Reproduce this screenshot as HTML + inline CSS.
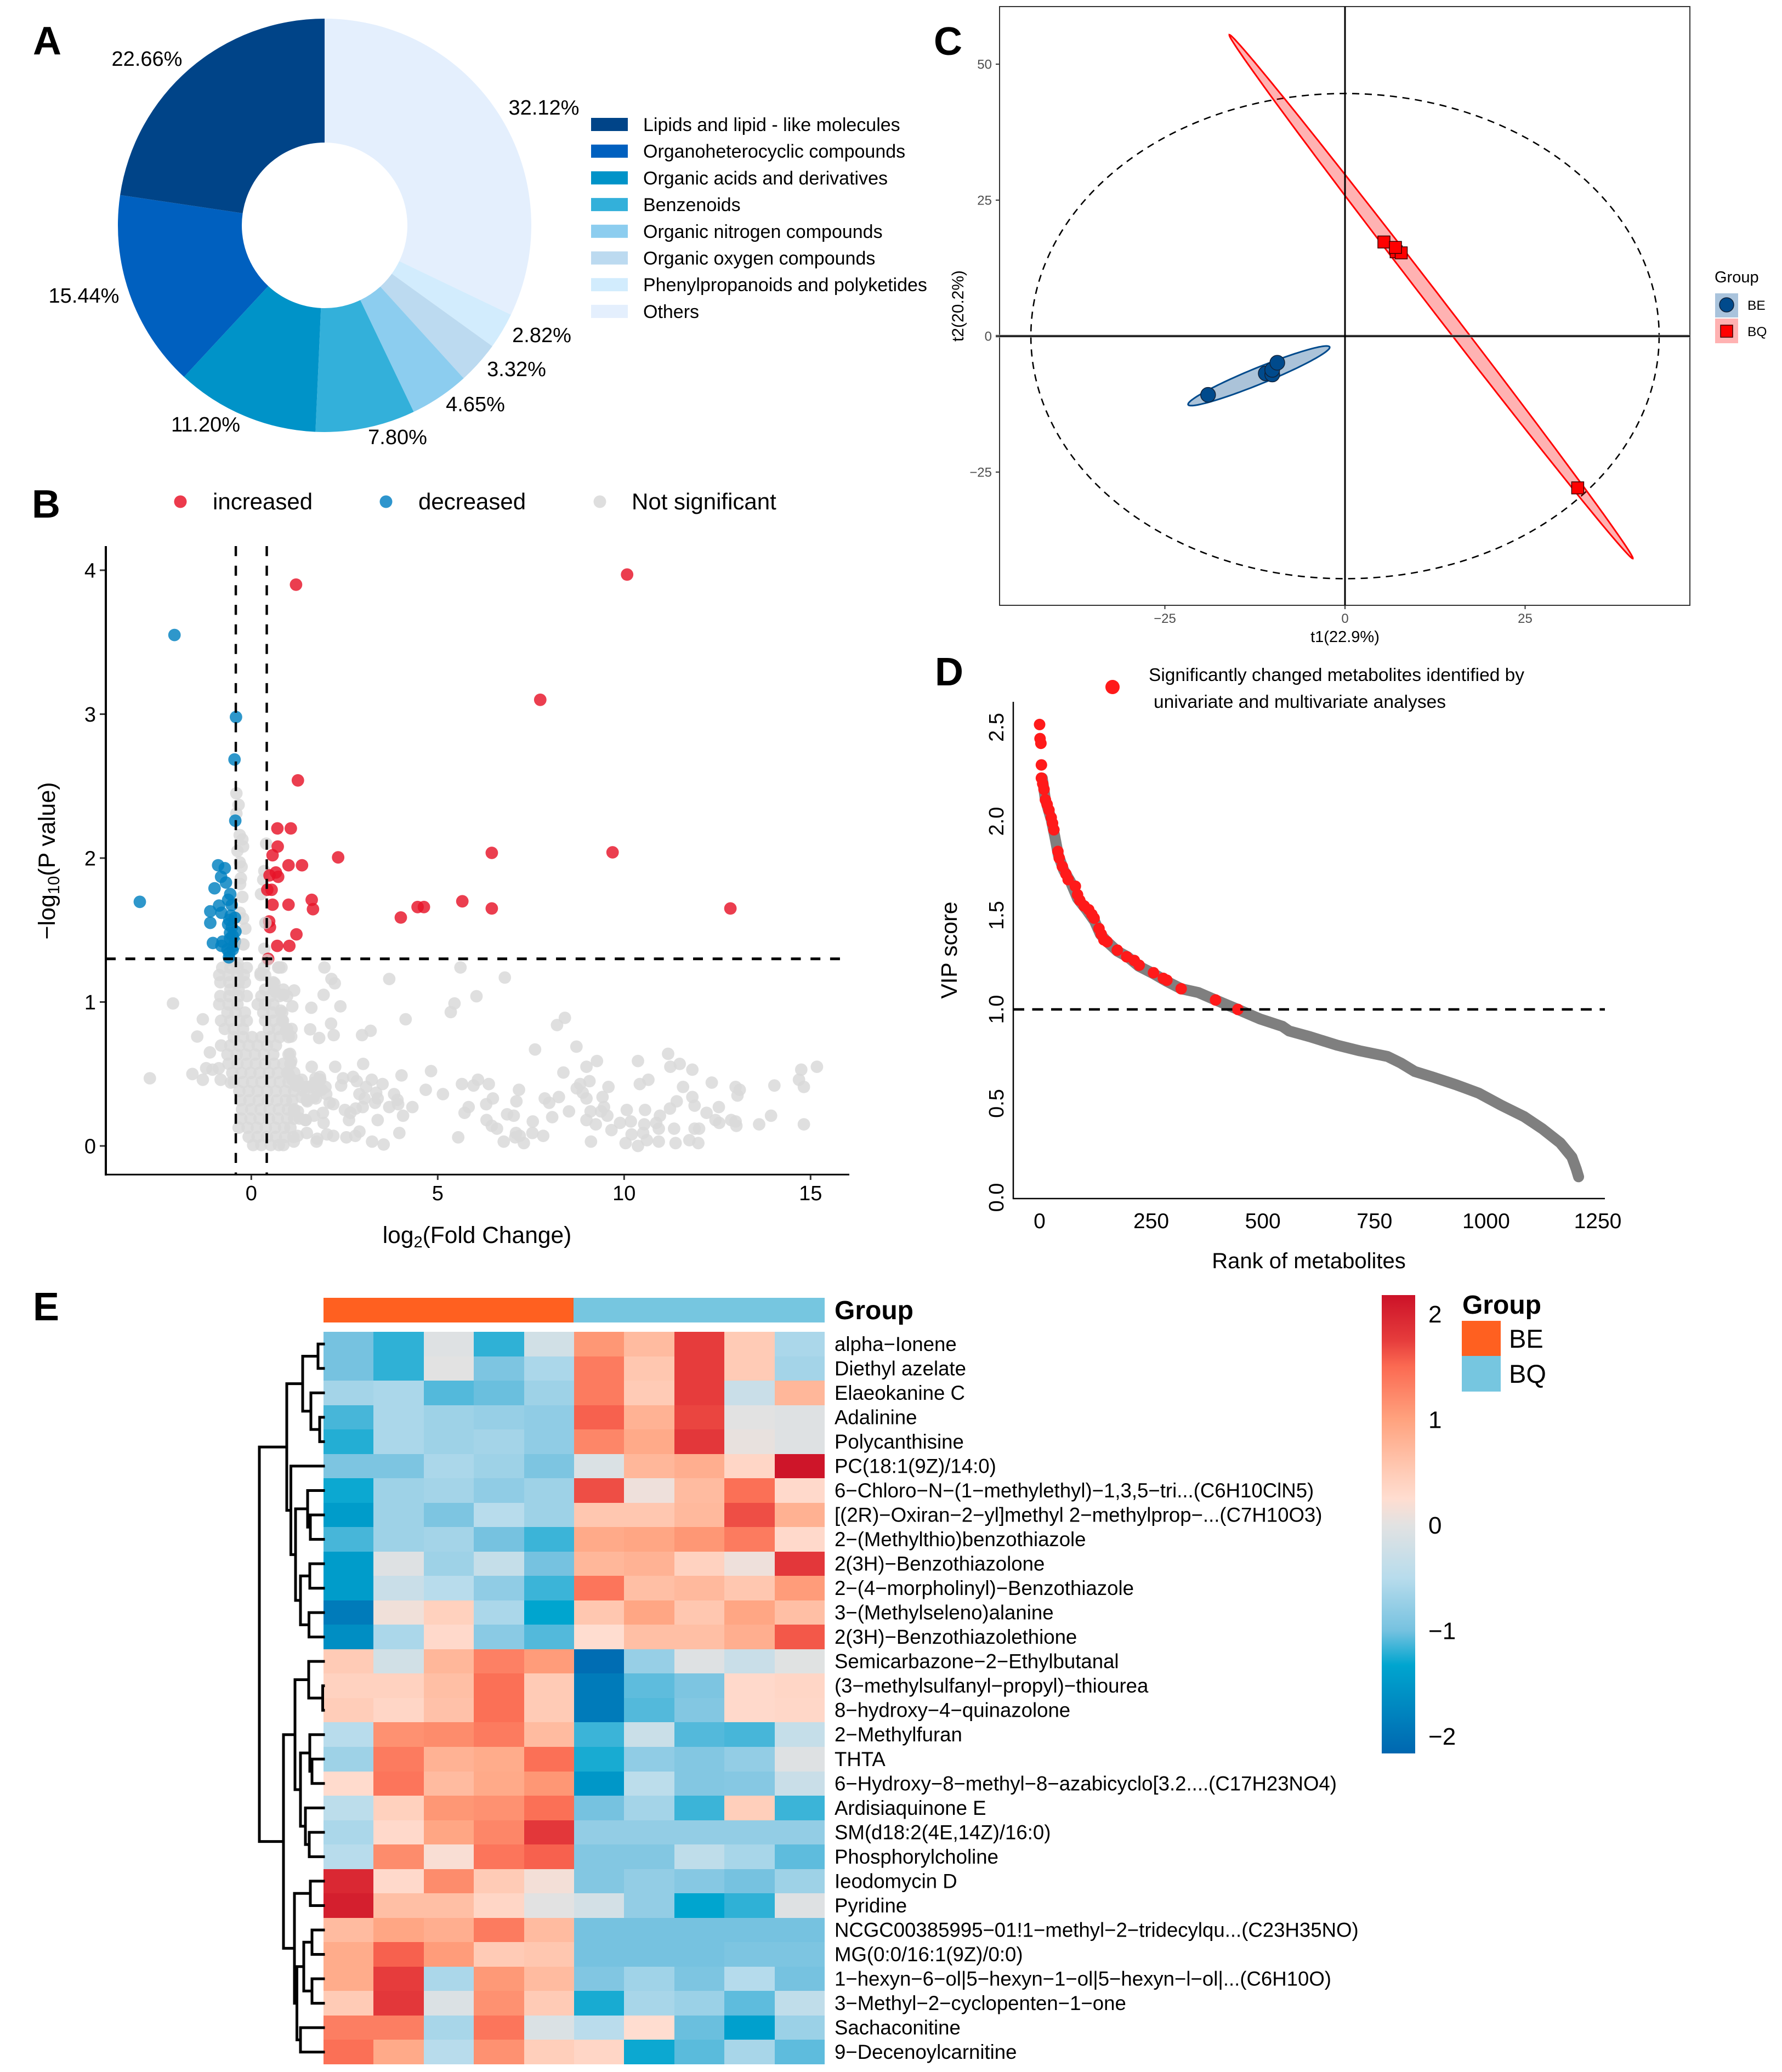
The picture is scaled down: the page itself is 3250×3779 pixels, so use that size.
<!DOCTYPE html>
<html lang="en">
<head>
<meta charset="utf-8">
<title>Metabolomics figure panels A-E</title>
<style>
html,body{margin:0;padding:0;background:#fff;}
svg{display:block;font-family:"Liberation Sans",Arial,sans-serif;}
text{fill:#000;}
</style>
</head>
<body>
<svg id="figure" xmlns="http://www.w3.org/2000/svg" width="3250" height="3779" viewBox="0 0 3250 3779">
<rect x="0" y="0" width="3250" height="3779" fill="#fff"/>

<!-- Panel letters -->
<g font-weight="700" font-size="72">
<text x="60" y="99">A</text>
<text x="58" y="944">B</text>
<text x="1703" y="100">C</text>
<text x="1705" y="1250">D</text>
<text x="60" y="2408">E</text>
</g>

<!-- Panel A -->
<g id="pie"></g>
<g id="pieLegend" font-size="34"></g>
<g font-size="38" text-anchor="middle">
<text x="992" y="209">32.12%</text>
<text x="268" y="120">22.66%</text>
<text x="153" y="552">15.44%</text>
<text x="375" y="787">11.20%</text>
<text x="725" y="810">7.80%</text>
<text x="867" y="750">4.65%</text>
<text x="942" y="686">3.32%</text>
<text x="988" y="624">2.82%</text>
</g>

<!-- Panel B -->
<g id="volcano"></g>
<g font-size="42">
<circle cx="329" cy="915" r="11.5" fill="#ec3a4c"/>
<text x="388" y="929">increased</text>
<circle cx="704" cy="915" r="11.5" fill="#2e95cd"/>
<text x="763" y="929">decreased</text>
<circle cx="1094" cy="915" r="11.5" fill="#dedede"/>
<text x="1152" y="929">Not significant</text>
</g>
<text x="870" y="2267" font-size="42.5" text-anchor="middle">log<tspan font-size="29" dy="8">2</tspan><tspan dy="-8">(Fold Change)</tspan></text>
<text transform="translate(100,1570) rotate(-90)" font-size="43" text-anchor="middle">−log<tspan font-size="30" dy="8">10</tspan><tspan dy="-8">(P value)</tspan></text>

<!-- Panel C -->
<g id="pca"></g>
<text x="2453" y="1171" font-size="29" text-anchor="middle">t1(22.9%)</text>
<text transform="translate(1757,558) rotate(-90)" font-size="30" text-anchor="middle">t2(20.2%)</text>
<g>
<text x="3127" y="515" font-size="29">Group</text>
<rect x="3128" y="535" width="42" height="44" fill="#a9c3dc"/>
<circle cx="3149" cy="556" r="13" fill="#004a8c" stroke="#10223a" stroke-width="1.5"/>
<text x="3187" y="565" font-size="24.5">BE</text>
<rect x="3128" y="581" width="42" height="45" fill="#ffb2b2"/>
<rect x="3138" y="593" width="22" height="22" fill="#ff0000" stroke="#3a0000" stroke-width="1.5"/>
<text x="3187" y="613" font-size="24.5">BQ</text>
</g>

<!-- Panel D -->
<g id="vip"></g>
<circle cx="2029" cy="1253" r="13" fill="#ff1a1a"/>
<text x="2095" y="1242" font-size="33" textLength="685" lengthAdjust="spacingAndGlyphs">Significantly changed metabolites identified by</text>
<text x="2104" y="1291" font-size="33" textLength="533" lengthAdjust="spacingAndGlyphs">univariate and multivariate analyses</text>
<text x="2387" y="2313" font-size="40" text-anchor="middle">Rank of metabolites</text>
<text transform="translate(1745,1733) rotate(-90)" font-size="41" text-anchor="middle">VIP score</text>

<!-- Panel E -->
<rect x="590" y="2367" width="456" height="45" fill="#ff6020"/>
<rect x="1046" y="2367" width="458" height="45" fill="#76c6e0"/>
<text x="1522" y="2406" font-size="48" font-weight="700">Group</text>
<g id="heatmap" shape-rendering="crispEdges"></g>
<g id="rowLabels" font-size="36.6"></g>
<g id="dendro" fill="none" stroke="#000" stroke-width="5" stroke-linecap="square"></g>
<defs><linearGradient id="barGrad" x1="0" y1="0" x2="0" y2="1"></linearGradient></defs>
<rect x="2520" y="2362" width="61" height="836" fill="url(#barGrad)"/>
<g id="barTicks" font-size="44"></g>
<g>
<text x="2667" y="2396" font-size="48" font-weight="700">Group</text>
<rect x="2666" y="2409" width="71" height="64" fill="#ff6020"/>
<rect x="2666" y="2473" width="71" height="65" fill="#76c6e0"/>
<text x="2752" y="2458" font-size="47">BE</text>
<text x="2752" y="2522" font-size="47">BQ</text>
</g>
</svg>

<script>
/* ---------- Panel A data ---------- */
const pieCategories = ["Others","Phenylpropanoids and polyketides","Organic oxygen compounds","Organic nitrogen compounds","Benzenoids","Organic acids and derivatives","Organoheterocyclic compounds","Lipids and lipid - like molecules"];
const pieValues = [32.12,2.82,3.32,4.65,7.80,11.20,15.44,22.66];
const pieColors = ["#e4effd","#d2ecfd","#bcdaf0","#8ccdef","#33b0da","#0093c8","#0060bf","#004488"];

/* ---------- Panel B data: [log2 fold change, -log10 p] ---------- */
const volcanoXTicks = [0,5,10,15];
const volcanoYTicks = [0,1,2,3,4];
const volcanoThresholdP = [1.3];
const volcanoThresholdFC = [-0.415,0.415];
const increasedPoints = [[1.20,3.90],[1.25,2.54],[.70,2.206],[1.06,2.206],[.709,2.08],[.57,2.02],[2.33,2.005],[.998,1.95],[1.36,1.95],[.49,1.88],[.66,1.90],[.72,1.87],[.43,1.78],[.545,1.78],[1.62,1.71],[1.655,1.645],[.57,1.676],[.998,1.676],[.48,1.56],[.50,1.52],[1.21,1.47],[.696,1.39],[1.02,1.39],[.453,1.30],[4.01,1.587],[4.46,1.66],[4.63,1.66],[10.08,3.97],[7.75,3.10],[6.45,2.036],[9.69,2.04],[5.66,1.70],[6.45,1.65],[12.85,1.65]];
const decreasedPoints = [[-2.06,3.55],[-2.99,1.696],[-.41,2.98],[-.45,2.685],[-.43,2.26],[-.89,1.95],[-.71,1.93],[-.81,1.87],[-.68,1.83],[-.985,1.79],[-.565,1.75],[-.62,1.71],[-.865,1.67],[-.525,1.674],[-1.10,1.63],[-.80,1.62],[-1.10,1.55],[-.44,1.585],[-.59,1.57],[-.62,1.54],[-.425,1.49],[-.57,1.48],[-1.03,1.41],[-.77,1.42],[-.80,1.39],[-.44,1.42],[-.57,1.44],[-.47,1.39],[-.59,1.34],[-.60,1.31],[-.5,1.365],[-.64,1.365],[-.55,1.60],[-.52,1.52],[-.5,1.46]];
const notSignificantSpread = [[-2.10,.99],[-1.30,.88],[-1.45,.76],[-2.72,.47],[-1.58,.50],[-1.30,.46],[-1.21,.54],[-1.04,.53],[-.87,.54],[-1.11,.65],[-.82,.46],[-.55,.44],[1.96,1.24],[3.70,1.16],[5.61,1.24],[6.80,1.17],[.75,1.24],[2.15,1.16],[2.24,1.13],[1.94,1.05],[6.04,1.04],[1.15,1.08],[1.10,.97],[1.61,.96],[2.39,.97],[5.45,.99],[5.35,.93],[4.14,.88],[8.41,.89],[8.20,.84],[2.14,.85],[1.58,.81],[1.82,.75],[2.21,.77],[2.97,.77],[3.20,.80],[7.61,.67],[8.72,.69],[9.27,.59],[8.99,.55],[8.37,.51],[10.37,.59],[11.18,.64],[11.49,.57],[11.24,.55],[11.83,.53],[14.75,.53],[15.17,.55],[3.00,.57],[2.25,.55],[1.62,.55],[4.82,.52],[4.03,.49],[12.35,.44],[14.69,.46],[14.82,.41],[14.03,.42],[12.99,.41],[13.10,.39],[13.04,.35],[10.65,.46],[10.42,.43],[11.58,.41],[11.83,.34],[11.41,.31],[11.23,.26],[11.89,.28],[12.21,.23],[12.54,.27],[9.07,.45],[8.82,.43],[8.73,.40],[9.58,.41],[9.42,.34],[8.89,.37],[8.99,.33],[9.46,.27],[9.38,.24],[9.10,.24],[9.55,.21],[8.99,.18],[9.24,.15],[9.66,.11],[9.89,.16],[10.18,.17],[10.07,.25],[10.56,.25],[10.96,.21],[10.86,.16],[10.54,.15],[10.93,.12],[11.34,.12],[10.20,.08],[10.51,.09],[10.61,.04],[10.93,.03],[10.04,.02],[10.37,.00],[9.11,.03],[11.38,.02],[11.75,.04],[11.99,.02],[11.89,.12],[12.01,.12],[12.45,.18],[12.55,.16],[12.87,.18],[12.99,.17],[13.01,.14],[13.62,.15],[13.94,.21],[14.82,.15],[5.65,.43],[5.96,.42],[6.08,.46],[6.37,.43],[7.18,.39],[6.48,.33],[6.30,.29],[7.11,.31],[7.87,.33],[7.99,.30],[8.25,.34],[8.52,.24],[8.07,.20],[7.55,.17],[6.86,.22],[7.04,.21],[5.83,.27],[5.72,.23],[6.31,.18],[6.45,.14],[6.59,.12],[7.10,.09],[7.20,.07],[7.08,.06],[7.54,.09],[7.83,.07],[6.77,.03],[7.31,.02],[5.55,.06],[4.68,.39],[5.14,.36],[4.32,.27],[4.07,.21],[3.70,.27],[3.39,.18],[3.97,.09],[3.24,.03],[3.55,.01],[2.90,.10],[2.79,.07],[2.55,.06],[2.20,.07],[2.03,.08],[1.77,.05],[1.75,.03],[1.49,.09],[1.24,.07],[1.14,.03],[1.94,.16],[1.68,.21],[1.46,.18],[2.62,.18],[2.51,.25],[2.66,.23],[2.80,.26],[2.99,.27],[2.10,.30],[2.20,.29],[1.92,.23],[1.73,.33],[1.49,.32],[1.35,.34],[1.85,.46],[1.70,.44],[1.99,.41],[1.77,.38],[1.54,.41],[2.46,.47],[2.41,.42],[2.73,.48],[2.83,.45],[3.23,.46],[3.52,.43],[3.08,.41],[2.90,.36],[3.04,.33],[3.35,.37],[3.39,.33],[3.32,.30],[3.83,.36],[3.92,.32],[3.94,.29],[1.24,.45],[1.10,.46],[1.04,.64],[1.07,.59],[1.00,.50],[.93,.80],[1.07,.76],[.85,.87],[.79,.94],[.86,1.05],[.65,1.07],[.62,1.13],[.25,1.20]];
const notSignificantUpper = [[-.40,2.45],[-.34,2.37],[-.40,2.31],[-.31,2.16],[-.24,2.13],[-.22,2.08],[-.37,2.05],[.40,2.10],[-.31,1.97],[-.26,1.94],[.35,1.91],[-.28,1.86],[.32,1.85],[-.30,1.82],[.26,1.75],[-.24,1.73],[-.31,1.62],[-.22,1.58],[.38,1.55],[-.16,1.51],[-.21,1.40],[.35,1.37],[-.59,1.29],[-.37,1.27],[.72,1.24],[.81,1.24]];
const notSignificantDense = [[.05,.006],[.27,.006],[.52,.006],[.74,.006],[.86,.006],[-.07,.063],[.17,.063],[.42,.063],[.66,.063],[.91,.063],[1.13,.063],[-.34,.127],[-.10,.127],[.15,.127],[.39,.127],[.64,.127],[.88,.127],[1.05,.127],[-.27,.19],[-.02,.19],[.22,.19],[.47,.19],[.71,.19],[.96,.19],[1.15,.19],[1.30,.19],[-.25,.254],[0,.254],[.25,.254],[.49,.254],[.74,.254],[.98,.254],[1.15,.254],[-.29,.317],[-.05,.317],[.2,.317],[.44,.317],[.69,.317],[.93,.317],[1.10,.317],[-.32,.381],[-.07,.381],[.17,.381],[.42,.381],[.66,.381],[.91,.381],[1.15,.381],[1.40,.381],[-.47,.444],[-.22,.444],[.02,.444],[.27,.444],[.51,.444],[.76,.444],[1.0,.444],[1.25,.444],[-.51,.508],[-.27,.508],[-.02,.508],[.22,.508],[.47,.508],[.71,.508],[.96,.508],[1.15,.508],[-.61,.571],[-.37,.571],[-.12,.571],[.12,.571],[.37,.571],[.61,.571],[.86,.571],[1.05,.571],[-.64,.635],[-.39,.635],[-.15,.635],[.10,.635],[.34,.635],[.59,.635],[1.0,.635],[-.81,.698],[-.56,.698],[-.32,.698],[-.07,.698],[.17,.698],[.42,.698],[.66,.698],[-.47,.756],[-.22,.756],[.02,.756],[.27,.756],[.51,.756],[.76,.756],[1.0,.756],[-.71,.813],[-.47,.813],[-.22,.813],[.47,.813],[.71,.813],[.96,.813],[1.08,.813],[-.81,.870],[-.56,.870],[-.32,.870],[-.12,.870],[.37,.870],[.59,.870],[.83,.870],[-.64,.927],[-.42,.927],[-.17,.927],[.32,.927],[.56,.927],[.83,.927],[-.86,.984],[-.61,.984],[-.37,.984],[.17,.984],[.37,.984],[.59,.984],[-.83,1.041],[-.59,1.041],[-.34,1.041],[-.12,1.041],[.27,1.041],[.51,1.041],[.76,1.041],[.96,1.041],[-.56,1.086],[-.34,1.086],[.37,1.086],[.61,1.086],[.86,1.086],[-.83,1.137],[-.59,1.137],[-.34,1.137],[-.17,1.137],[.59,1.137],[-.86,1.187],[-.61,1.187],[-.37,1.187],[-.20,1.187],[.25,1.187],[.37,1.187],[-.78,1.238],[-.56,1.238],[-.37,1.238],[-.12,1.238],[.34,1.238],[1.84,.48],[1.72,.47],[1.79,.42],[1.89,.39],[2.01,.36],[1.50,.31],[1.67,.34],[1.47,.41],[1.35,.46],[1.20,.42],[1.25,.24],[1.15,.24],[1.45,.18]];
const notSignificantOnTop = [[.38,1.55],[-.21,1.40],[.43,1.29]];

/* ---------- Panel C data ---------- */
const scoreXTicks = [-25,0,25];
const scoreYTicks = [-25,0,25,50];
const beScoresT1 = [-19.0,-11.0,-10.1,-10.1,-9.4];
const beScoresT2 = [-10.8,-6.85,-7.06,-6.2,-4.9];
const bqScoresT1 = [7.1,5.4,7.8,7.0,32.3];
const bqScoresT2 = [15.5,17.3,15.3,16.3,-27.9];
const hotellingRadiusT1 = [43.6];
const hotellingRadiusT2 = [44.6];
const beEllipseCenter = [-11.95,-7.3];
const beEllipseMajor = [9.82,5.3];
const beEllipseMinor = [.43,-1.40];
const bqEllipseCenter = [11.95,7.25];
const bqEllipseMajor = [-28.0,48.15];
const bqEllipseMinor = [.78,.80];

/* ---------- Panel D data ---------- */
const vipXTicks = [0,250,500,750,1000,1250];
const vipYTicks = ["0.0","0.5","1.0","1.5","2.0","2.5"];
const vipThreshold = [1.0];
const vipRanks = [6,13,26,34,42,54,69,85,105,123,136,151,174,197,222,255,284,317,355,394,444,493,544,559,605,666,717,779,809,840,881,932,983,1034,1085,1126,1166,1192,1202,1207];
const vipScores = [2.23,2.115,2.01,1.92,1.82,1.74,1.68,1.59,1.53,1.47,1.40,1.36,1.31,1.28,1.23,1.19,1.15,1.11,1.09,1.05,1.00,.95,.91,.885,.855,.81,.78,.75,.715,.67,.64,.60,.555,.49,.43,.365,.29,.215,.15,.11];
const significantRanks = [0,1,3,4,4,7,10,13,17,21,26,29,32,41,44,51,59,64,80,85,90,100,110,117,122,133,138,144,151,174,195,212,223,255,277,285,317,394,444];
const significantScores = [2.515,2.44,2.415,2.30,2.23,2.20,2.17,2.115,2.09,2.06,2.02,1.99,1.955,1.84,1.805,1.76,1.72,1.69,1.655,1.61,1.58,1.55,1.53,1.505,1.485,1.43,1.40,1.37,1.36,1.315,1.28,1.26,1.235,1.195,1.165,1.155,1.11,1.05,1.00];

/* ---------- Panel E data ---------- */
const rowNames = ["alpha−Ionene","Diethyl azelate","Elaeokanine C","Adalinine","Polycanthisine","PC(18:1(9Z)/14:0)","6−Chloro−N−(1−methylethyl)−1,3,5−tri...(C6H10ClN5)","[(2R)−Oxiran−2−yl]methyl 2−methylprop−...(C7H10O3)","2−(Methylthio)benzothiazole","2(3H)−Benzothiazolone","2−(4−morpholinyl)−Benzothiazole","3−(Methylseleno)alanine","2(3H)−Benzothiazolethione","Semicarbazone−2−Ethylbutanal","(3−methylsulfanyl−propyl)−thiourea","8−hydroxy−4−quinazolone","2−Methylfuran","THTA","6−Hydroxy−8−methyl−8−azabicyclo[3.2....(C17H23NO4)","Ardisiaquinone E","SM(d18:2(4E,14Z)/16:0)","Phosphorylcholine","Ieodomycin D","Pyridine","NCGC00385995−01!1−methyl−2−tridecylqu...(C23H35NO)","MG(0:0/16:1(9Z)/0:0)","1−hexyn−6−ol|5−hexyn−1−ol|5−hexyn−l−ol|...(C6H10O)","3−Methyl−2−cyclopenten−1−one","Sachaconitine","9−Decenoylcarnitine"];
const heatValues = [
[-1.0,-1.3,-.05,-1.3,-.2,1.1,.7,1.75,.5,-.6],
[-1.0,-1.3,0,-.95,-.6,1.35,.55,1.75,.5,-.65],
[-.65,-.6,-1.15,-1.05,-.7,1.35,.5,1.75,-.3,.75],
[-1.2,-.6,-.7,-.75,-.8,1.55,.8,1.7,0,-.05],
[-1.35,-.6,-.7,-.65,-.8,1.25,.9,1.8,.05,-.05],
[-.95,-.95,-.6,-.7,-.95,-.1,.75,.85,.35,2.15],
[-1.45,-.7,-.65,-.8,-.7,1.65,.1,.7,1.45,.3],
[-1.6,-.7,-.95,-.5,-.7,.55,.55,.72,1.65,.82],
[-1.2,-.7,-.65,-1.0,-1.25,.9,.95,1.1,1.35,.3],
[-1.6,-.05,-.7,-.35,-1.0,.75,.8,.4,.1,1.8],
[-1.6,-.3,-.5,-.8,-1.25,1.4,.65,.72,.55,1.05],
[-1.95,.12,.42,-.6,-1.5,.55,.95,.55,.95,.65],
[-1.75,-.6,.3,-.85,-1.15,.25,.65,.65,.85,1.6],
[.5,-.2,.75,1.3,1.05,-2.1,-.75,-.05,-.3,-.02],
[.4,.4,.65,1.45,.5,-1.95,-1.1,-.95,.3,.35],
[.47,.35,.62,1.45,.5,-1.95,-1.15,-.9,.3,.33],
[-.5,1.15,1.2,1.35,.7,-1.25,-.28,-1.15,-1.2,-.35],
[-.7,1.35,.8,.88,1.45,-1.4,-.8,-.9,-.78,-.05],
[.28,1.4,.7,.9,1.1,-1.65,-.45,-.9,-.88,-.3],
[-.45,.42,1.1,1.15,1.45,-1.0,-.65,-1.25,.45,-1.25],
[-.6,.3,.95,1.25,1.8,-.78,-.78,-.78,-.78,-.78],
[-.5,1.2,.2,1.4,1.55,-.9,-.9,-.42,-.62,-1.1],
[1.95,.3,1.2,.5,.15,-.9,-.78,-.88,-1.0,-.7],
[2.05,.65,.65,.35,0,-.18,-.78,-1.5,-1.3,-.05],
[.7,.95,.85,1.35,.7,-1.0,-1.0,-1.0,-1.0,-1.0],
[.88,1.55,1.05,.5,.55,-1.0,-1.0,-1.0,-.95,-.95],
[.88,1.75,-.6,1.08,.7,-.92,-.68,-.95,-.52,-1.0],
[.5,1.8,-.08,1.15,.5,-1.4,-.62,-.72,-1.1,-.4],
[1.32,1.32,-.62,1.4,-.1,-.48,.25,-1.05,-1.55,-.72],
[1.45,.9,-.5,1.15,.45,.35,-1.45,-1.12,-.62,-1.1]];
const colorStopValues = [-2.17,-1.5,-1,-.5,0,.25,.5,1,1.5,1.75,2.18];
const barStopValues = [-2.17,-1.33,-1,-.5,0,.25,.5,1,1.5,1.75,2.18];
const colorStopHex = ["#0067b0","#00a5cf","#76c2e0","#b8dcec","#e2e2e2","#ffddd0","#ffcbb6","#ffa27e","#fb6a52","#e63c3c","#cc1228"];
const colorbarTicks = [2,1,0,-1,-2];
/* dendrogram merge tree: [height, childA, childB]; integers at leaves are row indexes */
const dendrogramTree = [1.17,
  [.67,
    [.38,[.10,0,1],[.23,2,[.07,3,4]]],
    [.595,5,[.51,[.29,6,[.24,7,8]],[.42,[.25,9,10],[.265,11,12]]]]],
  [.73,
    [.52,[.27,13,[.015,14,15]],[.42,[.25,16,[.21,17,18]],[.33,19,[.26,20,21]]]],
    [.53,[.24,22,23],[.485,[.36,[.21,24,25],[.21,26,27]],[.42,28,29]]]]];

/* ---------- helpers ---------- */
const SVGNS = "http://www.w3.org/2000/svg";
function make(parent, tag, attrs, txt){
  const el = document.createElementNS(SVGNS, tag);
  for (const k in attrs) el.setAttribute(k, attrs[k]);
  if (txt !== undefined) el.textContent = txt;
  parent.appendChild(el);
  return el;
}
const byId = id => document.getElementById(id);
let el;

/* ---------- Panel A ---------- */
(function(){
  const cx = 592, cy = 411, R = 377, r = 151;
  const total = pieValues.reduce((a,b)=>a+b,0);
  const pt = (rad, a) => (cx + rad*Math.sin(a)).toFixed(2) + " " + (cy - rad*Math.cos(a)).toFixed(2);
  let start = 0;
  pieValues.forEach((v,i)=>{
    const end = start + v/total*2*Math.PI;
    const large = (end-start) > Math.PI ? 1 : 0;
    el = make(byId("pie"),"path",{d:"M"+pt(R,start)+" A"+R+" "+R+" 0 "+large+" 1 "+pt(R,end)+" L"+pt(r,end)+" A"+r+" "+r+" 0 "+large+" 0 "+pt(r,start)+" Z",fill:pieColors[i]});
    
    
    start = end;
  });
  const legendOrder = pieCategories.slice().reverse();
  const legendColors = pieColors.slice().reverse();
  legendOrder.forEach((name,i)=>{
    const y = 227 + 48.7*i;
    el = make(byId("pieLegend"),"rect",{x:1078,y:y-12,width:67,height:24,fill:legendColors[i]});
    
    
    el = make(byId("pieLegend"),"text",{x:1173,y:y+12},name);
    
    
  });
})();

/* ---------- Panel B ---------- */
(function(){
  const g = byId("volcano");
  const X = v => 458.3 + 68*v;
  const Y = v => 2090 - 262.5*v;
  function dots(list, fill, op, name){
    list.forEach(p=>{
      const c = make(g,"circle",{cx:X(p[0]).toFixed(1),cy:Y(p[1]).toFixed(1),r:11.4,fill:fill,"fill-opacity":op});
      
      
    });
  }
  dots(notSignificantDense,"#d9d9d9",.85,"point-not-significant");
  dots(notSignificantSpread,"#d9d9d9",.85,"point-not-significant");
  dots(notSignificantUpper,"#d9d9d9",.85,"point-not-significant");
  dots(decreasedPoints,"#0080c0",.82,"point-decreased");
  dots(increasedPoints,"#e61428",.82,"point-increased");
  dots(notSignificantOnTop,"#d9d9d9",.7,"point-not-significant");
  volcanoThresholdP.forEach(v=>{
    el = make(g,"line",{x1:193,x2:1535,y1:Y(v),y2:Y(v),stroke:"#000","stroke-width":5,"stroke-dasharray":"18 17.7"});
    
    
  });
  volcanoThresholdFC.forEach(v=>{
    el = make(g,"line",{x1:X(v),x2:X(v),y1:996,y2:2142,stroke:"#000","stroke-width":4.4,"stroke-dasharray":"18.3 17.4"});
    
    
  });
  el = make(g,"line",{x1:193,x2:193,y1:996,y2:2144,stroke:"#000","stroke-width":4});
  
  
  el = make(g,"line",{x1:191,x2:1549,y1:2142.3,y2:2142.3,stroke:"#000","stroke-width":3});
  
  
  volcanoXTicks.forEach(t=>{
    el = make(g,"line",{x1:X(t),x2:X(t),y1:2143,y2:2152,stroke:"#333","stroke-width":3});
    
    
    el = make(g,"text",{x:X(t),y:2189,"font-size":38,"text-anchor":"middle"},String(t));
    
    
  });
  volcanoYTicks.forEach(t=>{
    el = make(g,"line",{x1:182,x2:191,y1:Y(t),y2:Y(t),stroke:"#333","stroke-width":3});
    
    
    el = make(g,"text",{x:175,y:Y(t)+13.5,"font-size":38,"text-anchor":"end"},String(t));
    
    
  });
})();

/* ---------- Panel C ---------- */
(function(){
  const g = byId("pca");
  const X = v => 2453 + 13.14*v;
  const Y = v => 613 - 9.92*v;
  el = make(g,"rect",{x:1823,y:12,width:1259,height:1092,fill:"#fff",stroke:"#333","stroke-width":2});
  
  
  function ellipsePath(c,a,b){
    let d = "";
    for (let i=0;i<=120;i++){
      const t = i/120*2*Math.PI;
      const vx = c[0]+a[0]*Math.cos(t)+b[0]*Math.sin(t);
      const vy = c[1]+a[1]*Math.cos(t)+b[1]*Math.sin(t);
      d += (i?"L":"M")+X(vx).toFixed(1)+" "+Y(vy).toFixed(1);
    }
    return d+"Z";
  }
  el = make(g,"ellipse",{cx:X(0),cy:Y(0),rx:13.14*hotellingRadiusT1[0],ry:9.92*hotellingRadiusT2[0],fill:"none",stroke:"#000","stroke-width":2.6,"stroke-dasharray":"13 10"});
  
  
  el = make(g,"path",{d:ellipsePath(bqEllipseCenter,bqEllipseMajor,bqEllipseMinor),fill:"#ff0000","fill-opacity":.3,stroke:"#ff0000","stroke-width":3});
  
  
  el = make(g,"path",{d:ellipsePath(beEllipseCenter,beEllipseMajor,beEllipseMinor),fill:"#004a8c","fill-opacity":.33,stroke:"#004a8c","stroke-width":3});
  
  
  el = make(g,"line",{x1:1816,x2:3082,y1:613,y2:613,stroke:"#999","stroke-width":5});
  
  
  el = make(g,"line",{x1:1816,x2:3082,y1:613,y2:613,stroke:"#000","stroke-width":2.6});
  
  
  el = make(g,"line",{x1:X(0),x2:X(0),y1:12,y2:1104,stroke:"#000","stroke-width":3});
  
  
  beScoresT1.forEach((v,i)=>{
    el = make(g,"circle",{cx:X(v).toFixed(1),cy:Y(beScoresT2[i]).toFixed(1),r:13.5,fill:"#004a8c",stroke:"#10223a","stroke-width":1.5});
    
    
  });
  bqScoresT1.forEach((v,i)=>{
    el = make(g,"rect",{x:(X(v)-11).toFixed(1),y:(Y(bqScoresT2[i])-11).toFixed(1),width:22,height:22,fill:"#ff0000",stroke:"#3a0000","stroke-width":1.5});
    
    
  });
  scoreXTicks.forEach(t=>{
    el = make(g,"line",{x1:X(t),x2:X(t),y1:1104,y2:1111,stroke:"#333","stroke-width":2});
    
    
    el = make(g,"text",{x:X(t),y:1136,"font-size":24,"text-anchor":"middle",style:"fill:#4d4d4d"},String(t).replace("-","−"));
    
    
  });
  scoreYTicks.forEach(t=>{
    el = make(g,"line",{x1:1816,x2:1823,y1:Y(t),y2:Y(t),stroke:"#333","stroke-width":2});
    
    
    el = make(g,"text",{x:1809,y:Y(t)+8.5,"font-size":24,"text-anchor":"end",style:"fill:#4d4d4d"},String(t).replace("-","−"));
    
    
  });
})();

/* ---------- Panel D ---------- */
(function(){
  const g = byId("vip");
  const X = v => 1896 + 0.8144*v;
  const Y = v => 2184 - 343*v;
  el = make(g,"line",{x1:1848,x2:1848,y1:1280,y2:2187,stroke:"#000","stroke-width":2.5});
  
  
  el = make(g,"line",{x1:1847,x2:2927,y1:2186,y2:2186,stroke:"#000","stroke-width":2.5});
  
  
  el = make(g,"polyline",{points:vipRanks.map((r,i)=>X(r).toFixed(1)+","+Y(vipScores[i]).toFixed(1)).join(" "),fill:"none",stroke:"#7f7f7f","stroke-width":20,"stroke-linecap":"round","stroke-linejoin":"round"});
  
  
  significantRanks.forEach((r,i)=>{
    el = make(g,"circle",{cx:X(r).toFixed(1),cy:Y(significantScores[i]).toFixed(1),r:10.5,fill:"#ff1a1a"});
    
    
  });
  vipThreshold.forEach(v=>{
    el = make(g,"line",{x1:1848,x2:2927,y1:Y(v),y2:Y(v),stroke:"#000","stroke-width":4.4,"stroke-dasharray":"20 14.5"});
    
    
  });
  vipXTicks.forEach(t=>{
    el = make(g,"text",{x:X(t),y:2240,"font-size":39,"text-anchor":"middle"},String(t));
    
    
  });
  vipYTicks.forEach(t=>{
    el = make(g,"text",{transform:"translate(1830,"+Y(parseFloat(t))+") rotate(-90)","font-size":38,"text-anchor":"middle"},t);
    
    
  });
})();

/* ---------- Panel E ---------- */
(function(){
  const top = 2429, rowH = 44.53, left = 590, colW = 91.4;
  function hex(c){return [1,3,5].map(i=>parseInt(c.substr(i,2),16));}
  function colorFor(v){
    const vals = colorStopValues;
    if (v <= vals[0]) return colorStopHex[0];
    for (let i=1;i<vals.length;i++){
      if (v <= vals[i]){
        const t = (v-vals[i-1])/(vals[i]-vals[i-1]);
        const a = hex(colorStopHex[i-1]), b = hex(colorStopHex[i]);
        return "rgb("+a.map((x,k)=>Math.round(x+(b[k]-x)*t)).join(",")+")";
      }
    }
    return colorStopHex[colorStopHex.length-1];
  }
  heatValues.forEach((row,r)=>{
    row.forEach((v,c)=>{
      const x0 = Math.round(left+c*colW), x1 = Math.round(left+(c+1)*colW);
      const y0 = Math.round(top+r*rowH), y1 = Math.round(top+(r+1)*rowH);
      el = make(byId("heatmap"),"rect",{x:x0,y:y0,width:x1-x0,height:y1-y0,fill:colorFor(v)});
      
      
    });
  });
  rowNames.forEach((n,r)=>{
    el = make(byId("rowLabels"),"text",{x:1522,y:(top+rowH*(r+.5)+12.5).toFixed(1)},n);
    
    
  });
  function drawNode(node){
    if (typeof node === "number") return {x:590,y:top+rowH*(node+.5)};
    const a = drawNode(node[1]), b = drawNode(node[2]);
    const x = 590 - node[0]*100;
    const p = make(byId("dendro"),"path",{d:"M"+a.x+" "+a.y+" H"+x+" V"+b.y+" H"+b.x});
    
    
    return {x:x,y:(a.y+b.y)/2};
  }
  drawNode(dendrogramTree);
  const grad = byId("barGrad");
  const barTop = 2362, barH = 836;
  for (let i = barStopValues.length-1; i >= 0; i--){
    const y = 2781 - barStopValues[i]*192.5;
    const offs = Math.max(0,Math.min(1,(y-barTop)/barH));
    make(grad,"stop",{offset:offs.toFixed(4),"stop-color":colorStopHex[i]});
  }
  colorbarTicks.forEach(t=>{
    el = make(byId("barTicks"),"text",{x:2605,y:2781-t*192.5+16},String(t).replace("-","−"));
    
    
  });
})();
</script>
</body>
</html>
